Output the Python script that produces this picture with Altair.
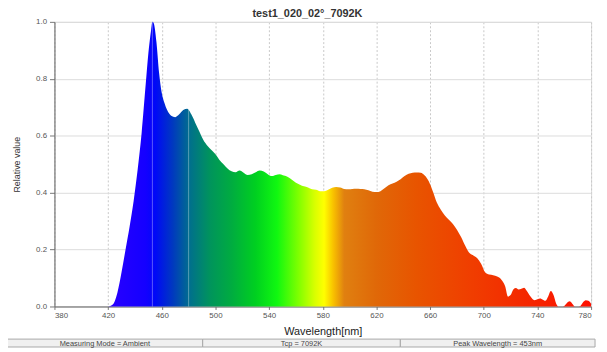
import altair as alt
import pandas as pd

# ---- data ----
wavelengths = [420, 424, 427, 430, 433, 436, 439, 442, 445, 448, 450, 452, 453, 454, 456, 458, 460, 462, 464, 467,
               470, 473, 476, 479, 482, 485, 488, 491, 494, 497, 500, 503, 506, 509, 512, 515, 518, 521, 524, 527,
               530, 533, 536, 539, 542, 545, 548, 551, 554, 557, 560, 563, 566, 569, 572, 575, 578, 581, 584, 587,
               590, 593, 596, 599, 602, 605, 608, 611, 614, 617, 620, 623, 626, 629, 632, 635, 638, 641, 644, 647,
               650, 653, 656, 659, 662, 665, 668, 671, 674, 677, 680, 683, 686, 689, 692, 695, 698, 701, 704, 707,
               710, 713, 716, 718, 720, 722, 724, 726, 728, 730, 732, 734, 736, 738, 740, 742, 744, 746, 748, 750,
               752, 754, 756, 758, 760, 762, 764, 766, 768, 770, 772, 774, 776, 778, 780]
relative = [0.0, 0.01, 0.05, 0.12, 0.20, 0.28, 0.37, 0.48, 0.61, 0.78, 0.89, 0.97, 1.0, 0.995, 0.93, 0.82, 0.75, 0.715, 0.69, 0.67,
            0.665, 0.675, 0.69, 0.695, 0.675, 0.645, 0.615, 0.585, 0.565, 0.55, 0.535, 0.515, 0.50, 0.485, 0.475, 0.472, 0.478, 0.47, 0.462, 0.465,
            0.472, 0.478, 0.474, 0.465, 0.458, 0.462, 0.465, 0.46, 0.455, 0.445, 0.435, 0.428, 0.422, 0.418, 0.412, 0.41, 0.405, 0.405, 0.41, 0.417,
            0.42, 0.418, 0.413, 0.412, 0.413, 0.414, 0.413, 0.412, 0.408, 0.403, 0.402, 0.405, 0.415, 0.426, 0.432, 0.438, 0.447, 0.458, 0.466, 0.47,
            0.471, 0.47, 0.46, 0.44, 0.405, 0.365, 0.34, 0.32, 0.305, 0.29, 0.27, 0.245, 0.215, 0.19, 0.18, 0.17, 0.15, 0.12, 0.112, 0.11,
            0.105, 0.095, 0.07, 0.035, 0.04, 0.06, 0.065, 0.06, 0.062, 0.066, 0.055, 0.04, 0.028, 0.022, 0.025, 0.028, 0.024, 0.02, 0.035, 0.054,
            0.04, 0.01, 0.0, 0.0, 0.002, 0.012, 0.018, 0.01, 0.0, 0.0, 0.002, 0.015, 0.022, 0.02, 0.01]

marker_nm = [453, 480]
marker_val = [1.0, 0.695]

x_ticks = list(range(380, 781, 20))
y_ticks = [0.0, 0.2, 0.4, 0.6, 0.8, 1.0]

title_text = "test1_020_02°_7092K"
status_texts = ["Measuring Mode = Ambient", "Tcp = 7092K", "Peak Wavelength = 453nm"]

# spectral colour stops (wavelength, colour)
stop_nm = [420, 448, 455, 468, 481, 496, 512, 530, 546, 562, 574, 581, 588, 596, 620, 650, 690, 730, 780]
stop_col = ["#2a00ff", "#1400ff", "#0008f8", "#0038c0", "#00708c", "#00945c", "#00ac40", "#00d020",
            "#10f810", "#80ff00", "#d8ff00", "#ffff00", "#f8c000", "#e08010", "#e06808", "#e85400",
            "#f03e00", "#f42800", "#ff1000"]

df = pd.DataFrame({"nm": wavelengths, "val": relative})
mk = pd.DataFrame({"nm": marker_nm, "val": marker_val})

lo, hi = min(wavelengths), max(wavelengths)
grad = alt.Gradient(
    gradient="linear", x1=0, x2=1, y1=0, y2=0,
    stops=[alt.GradientStop(color=c, offset=(n - lo) / (hi - lo)) for n, c in zip(stop_nm, stop_col)],
)

xscale = alt.Scale(domain=[380, 780], nice=False, zero=False)
yscale = alt.Scale(domain=[0, 1], nice=False)

FONT = "Liberation Sans"

xaxis = alt.Axis(values=x_ticks, labelExpr="datum.value % 40 == 20 ? datum.label : ''",
                 title="Wavelength[nm]", titleFontSize=11, titleFontWeight="normal", titleColor="#222",
                 titlePadding=6, labelFontSize=8, labelColor="#555", labelPadding=2,
                 grid=True, gridColor="#c8c8c8", gridDash=[2, 2], gridWidth=1,
                 domainColor="#666", tickColor="#777", tickSize=3, labelFont=FONT, titleFont=FONT)
yaxis = alt.Axis(values=y_ticks, format=".1f", title="Relative value", titleFontSize=9,
                 titleFontWeight="normal", titleColor="#333", titlePadding=14,
                 labelFontSize=8, labelColor="#555", labelPadding=3,
                 grid=True, gridColor="#dcdcdc", gridWidth=1,
                 domainColor="#666", tickColor="#777", tickSize=5, labelFont=FONT, titleFont=FONT)

area = alt.Chart(df).mark_area(interpolate="monotone", color=grad, line=False).encode(
    x=alt.X("nm:Q", scale=xscale, axis=xaxis),
    y=alt.Y("val:Q", scale=yscale, axis=yaxis),
)

markers = alt.Chart(mk).mark_rule(color="white", opacity=0.35, strokeWidth=1).encode(
    x="nm:Q", y=alt.Y("val:Q"), y2=alt.datum(0)
)

# title
title = alt.Chart(pd.DataFrame({"t": [title_text]})).mark_text(
    font=FONT, fontSize=11, fontWeight="bold", color="#333", align="center", baseline="middle"
).encode(text="t:N", x=alt.value(256), y=alt.value(-8))

# status bar
sb = pd.DataFrame({
    "x0": [-48, 150, 350], "x1": [150, 350, 547],
    "xc": [51, 250, 448.5], "t": status_texts,
})
bar = alt.Chart(sb).mark_rect(fill="#f0f0f0", stroke="#a8a8a8", strokeWidth=1).encode(
    x=alt.X("x0:Q", scale=None), x2="x1:Q", y=alt.value(321), y2=alt.value(329)
)
bar_text = alt.Chart(sb).mark_text(font=FONT, fontSize=7.5, color="#444", baseline="middle").encode(
    x=alt.X("xc:Q", scale=None), y=alt.value(325.5), text="t:N"
)

chart = alt.layer(area, markers, title, bar, bar_text).properties(
    width=543, height=288, autosize="none",
    padding={"left": 47, "top": 12, "right": 8, "bottom": 41},
).configure_view(stroke="#888", strokeWidth=1).configure(background="white")

chart.save("out.html", embed_options={"renderer": "svg", "actions": False})
